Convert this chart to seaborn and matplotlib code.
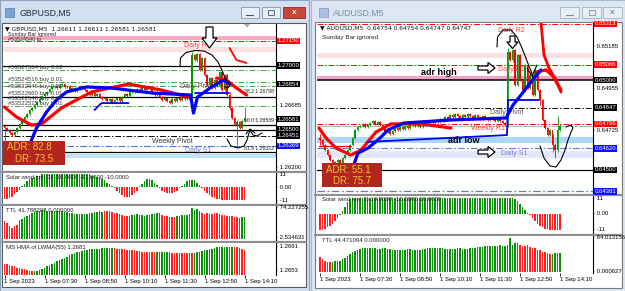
import numpy as np
import pandas as pd
import matplotlib
matplotlib.use("Agg")
import matplotlib.pyplot as plt
import matplotlib.transforms as mtrans
from matplotlib.patches import Rectangle, Polygon
import seaborn as sns

sns.set_theme(style="white")
plt.rcParams["font.family"] = ["Liberation Sans", "DejaVu Sans"]
plt.rcParams["axes.unicode_minus"] = False

# ------------------------------------------------------------------ data
time_ticks = [0, 16, 32, 48, 64, 80, 96]
time_labels = ["1 Sep 2023", "1 Sep 07:30", "1 Sep 08:50", "1 Sep 10:10",
               "1 Sep 11:30", "1 Sep 12:50", "1 Sep 14:10"]

# GBPUSD M5 closes (bar 0 = 06:10)
gbp_open0 = 1.26530
gbp_close = [1.26511, 1.26495, 1.26471, 1.26456, 1.26479, 1.26511, 1.26542, 1.26573,
             1.26597, 1.26620, 1.26652, 1.26668, 1.26691, 1.26714, 1.26738, 1.26761,
             1.26777, 1.26793, 1.26816, 1.26832, 1.26839, 1.26824, 1.26847, 1.26855,
             1.26832, 1.26839, 1.26808, 1.26824, 1.26800, 1.26816, 1.26839, 1.26824,
             1.26808, 1.26793, 1.26769, 1.26785, 1.26761, 1.26777, 1.26753, 1.26738,
             1.26746, 1.26722, 1.26738, 1.26714, 1.26730, 1.26746, 1.26722, 1.26753,
             1.26777, 1.26761, 1.26793, 1.26808, 1.26793, 1.26816, 1.26800, 1.26824,
             1.26808, 1.26832, 1.26816, 1.26785, 1.26769, 1.26793, 1.26753, 1.26730,
             1.26746, 1.26722, 1.26706, 1.26738, 1.26722, 1.26746, 1.26730, 1.26753,
             1.26738, 1.26761, 1.26730, 1.27082, 1.27043, 1.27090, 1.26965, 1.27059,
             1.26926, 1.26847, 1.26902, 1.26824, 1.26886, 1.26839, 1.26949, 1.26808,
             1.26926, 1.26769, 1.26668, 1.26589, 1.26534, 1.26558, 1.26511, 1.26565,
             1.26581]
gbp_wicks = {0: (1.26545, 1.26400), 75: (1.27106, 1.26722), 77: (1.27100, 1.27030),
             90: (1.26790, 1.26650), 93: (1.26570, 1.26378), 96: (1.26675, 1.26560)}

gbp_blue_x = [10, 12.8, 16.8, 20.8, 24.8, 32.8, 42.8, 58.8, 74.4, 75.6, 77.2, 82.8, 87.6, 90]
gbp_blue_y = [1.26378, 1.26511, 1.26636, 1.26730, 1.26793, 1.26832, 1.26824, 1.26785,
              1.26769, 1.26628, 1.26753, 1.26832, 1.26886, 1.26855]
gbp_step_x = [36, 38.8, 49.6]
gbp_step_y = [1.26652, 1.26706, 1.26706]
gbp_flat_x = [76, 89.6]
gbp_flat_y = [1.26785, 1.26785]
gbp_red_x = [0, 4.8, 10.8, 14.8, 22.8, 34.8, 49.6, 62.8, 73.6]
gbp_red_y = [1.26675, 1.26597, 1.26534, 1.26542, 1.26668, 1.26793, 1.26855, 1.26808, 1.26753]
gbp_red2_x = [84.8, 88.8, 92.8, 96.8]
gbp_red2_y = [1.26902, 1.26886, 1.26824, 1.26769]
gbp_red3_x = [90, 92.8, 96.8]
gbp_red3_y = [1.27137, 1.27043, 1.27020]

gbp_solar = ([-10, -10, -9, -8, -6, -4, -2] +
             [1, 3, 5, 7, 8, 9, 10, 10, 11, 11, 11, 11, 11, 11, 11, 11, 11, 11, 11, 11,
              11, 11, 11, 11, 11, 11, 11, 11, 10, 10, 9, 8, 7, 6, 4, 3, 1] +
             [-1, -3, -5, -7, -8, -8, -8, -7, -5, -3] +
             [1, 3, 5, 7, 7, 6, 4, 2] +
             [-1, -3, -4, -5, -5, -5, -4, -3, -1] +
             [1, 3, 5, 6, 6, 6, 4, 2] +
             [-1, -3, -5, -7, -8, -9, -10, -10, -11, -11, -11, -11, -11, -11, -11, -11, -11, -11])

gbp_ttl = ([42, 38, 32, 27, 30, 34] +
           [45, 48, 52, 55, 58, 62, 65, 67, 68, 70, 69, 68, 67, 66, 65, 66, 67, 66, 65, 64,
            63, 62, 61, 60, 60, 61, 60, 61, 62, 63, 64, 65, 66, 65] +
           [68, 67, 66, 64, 63, 62, 60, 58, 56, 54] +
           [55, 57, 58, 59, 58, 57, 56, 57, 58, 59, 60, 62, 63] +
           [58, 55, 54, 53, 52, 52] +
           [55, 56, 57, 57, 58, 60, 75, 70, 72, 66] +
           [62, 61, 62, 60, 61, 62, 63, 60, 58, 57, 56, 55, 54, 53, 52, 50] +
           [52, 53])
gbp_ttl_runs = [("r", 6), ("g", 34), ("r", 10), ("g", 13), ("r", 6), ("g", 10), ("r", 16), ("g", 2)]

gbp_hma = ([1.2663, 1.2662, 1.2661, 1.2660, 1.2659, 1.2657, 1.2656, 1.2655, 1.2654, 1.2653, 1.2652, 1.2651] +
           [1.2651, 1.2652, 1.2653, 1.2655, 1.2657, 1.2659, 1.2661, 1.2663, 1.2665, 1.2667,
            1.2669, 1.2671, 1.2673, 1.2675, 1.2677, 1.2679, 1.2680, 1.2682, 1.2683, 1.2684,
            1.2685, 1.2686, 1.2687, 1.2687, 1.2688, 1.2688, 1.2688, 1.2689, 1.2689, 1.2689,
            1.2689, 1.2689] +
           [1.2689, 1.2688, 1.2688, 1.2687, 1.2687, 1.2686, 1.2686, 1.2685, 1.2685, 1.2684,
            1.2684, 1.2683, 1.2683, 1.2683, 1.2682, 1.2682, 1.2682] +
           [1.2682, 1.2682, 1.2683, 1.2682, 1.2682, 1.2682] +
           [1.2681, 1.2681, 1.2681, 1.2680, 1.2680, 1.2680, 1.2680, 1.2680, 1.2680] +
           [1.2681, 1.2682, 1.2683, 1.2684, 1.2685, 1.2686, 1.2687, 1.2688, 1.2689, 1.2690,
            1.2690, 1.2691, 1.2691, 1.2691, 1.2691, 1.2691] +
           [1.2690, 1.2690, 1.2689, 1.2688, 1.2686])
gbp_hma_runs = [("r", 12), ("g", 32), ("r", 17), ("g", 6), ("r", 9), ("g", 16), ("r", 5)]

# AUDUSD M5 closes
aud_open0 = 0.64680
aud_close = [0.64667, 0.64639, 0.64611, 0.64583, 0.64556, 0.64528, 0.64544, 0.64556,
             0.64539, 0.64567, 0.64583, 0.64611, 0.64639, 0.64678, 0.64722, 0.64739,
             0.64744, 0.64756, 0.64739, 0.64750, 0.64761, 0.64772, 0.64756, 0.64767,
             0.64750, 0.64733, 0.64711, 0.64722, 0.64700, 0.64717, 0.64733, 0.64722,
             0.64739, 0.64728, 0.64744, 0.64733, 0.64750, 0.64761, 0.64744, 0.64756,
             0.64739, 0.64750, 0.64767, 0.64756, 0.64772, 0.64761, 0.64778, 0.64767,
             0.64783, 0.64772, 0.64794, 0.64783, 0.64806, 0.64794, 0.64811, 0.64800,
             0.64789, 0.64806, 0.64794, 0.64811, 0.64800, 0.64789, 0.64806, 0.64794,
             0.64783, 0.64800, 0.64789, 0.64778, 0.64794, 0.64783, 0.64772, 0.64789,
             0.64772, 0.64761, 0.64750, 0.65156, 0.65111, 0.65167, 0.64972, 0.65139,
             0.65000, 0.64944, 0.65083, 0.64956, 0.65028, 0.64917, 0.65056, 0.64944,
             0.64889, 0.64778, 0.64733, 0.64694, 0.64722, 0.64639, 0.64611, 0.64722,
             0.64747]
aud_wicks = {0: (0.64700, 0.64640), 5: (0.64560, 0.64500), 75: (0.65178, 0.64740),
             77: (0.65175, 0.65100), 88: (0.64950, 0.64861), 93: (0.64700, 0.64600),
             94: (0.64650, 0.64567), 95: (0.64800, 0.64600)}

aud_blue_x = [13.2, 15.2, 19.2, 23.2, 27.2, 33.6, 52.4, 74.4, 77.2, 80.4, 84.4, 88.4]
aud_blue_y = [0.64517, 0.64594, 0.64622, 0.64667, 0.64722, 0.64761, 0.64778, 0.64789,
              0.64861, 0.64917, 0.64989, 0.65056]
aud_step_x = [19.2, 51.2, 74.8, 75.2, 87.6]
aud_step_y = [0.64656, 0.64678, 0.64694, 0.64889, 0.64889]
aud_red_x = [-0.4, 2.4, 6.4, 12.4, 16.4, 22.4, 28.4, 40.4, 52.4]
aud_red_y = [0.64733, 0.64678, 0.64622, 0.64583, 0.64611, 0.64711, 0.64756, 0.64756, 0.64733]
aud_red2_x = [86.4, 90.4, 93.2, 96.4]
aud_red2_y = [0.65044, 0.65056, 0.65022, 0.64944]
aud_red3_x = [88.4, 89.6, 91.6, 94.4, 96.4]
aud_red3_y = [0.65317, 0.65139, 0.65067, 0.65000, 0.64933]
aud_red4_x = [-0.4, 12.4]
aud_red4_y = [0.64633, 0.64633]

aud_solar = ([-11, -11, -10, -9, -8, -7, -5, -3, -1] +
             [2, 5, 8, 10, 11] + [11] * 64 + [10, 9, 7, 5, 3, 1] +
             [-1, -3, -5, -7, -8, -9, -10, -10, -11, -11, -11, -11, -11])

aud_ttl = ([37, 33, 26, 24, 24] +
           [25, 26, 26, 28, 31, 35, 40, 44, 48, 51,
            55, 56, 58, 58, 59, 59, 58, 58, 57, 57,
            58, 58, 57, 56, 55, 55, 55, 54, 55, 55,
            56, 56, 55, 55, 55, 55, 56, 57, 58, 59,
            60, 60, 59, 58, 58, 57, 57, 56, 56, 57,
            58, 58, 57, 56, 57, 58, 59, 60, 61, 62,
            62, 63, 63, 64, 64, 63, 64, 65, 64, 63,
            65, 84, 66, 72, 72] +
           [66, 64, 63, 65, 62, 60, 58, 55, 53, 50, 48, 46, 44] +
           [44, 46, 47, 47])
aud_ttl_runs = [("r", 5), ("g", 75), ("r", 13), ("g", 4)]

# ------------------------------------------------------------------ figure
W, H = 625, 291
fig = plt.figure(figsize=(W / 100, H / 100), dpi=100)
fig.patch.set_facecolor("#d6e2f1")

GREEN, RED = "#009a00", "#ff0000"
HG, HR = "#0b8f0b", "#ff1f1f"
FS = 4.3
DD = (0, (6, 2, 1.5, 2))


def axes_px(x0, y0, x1, y1, z=1):
    return fig.add_axes([x0 / W, 1 - y1 / H, (x1 - x0) / W, (y1 - y0) / H], zorder=z)


def rect(ax, x0, y0, x1, y1, **kw):
    ax.add_patch(Rectangle((x0, y0), x1 - x0, y1 - y0, **kw))


bg = axes_px(0, 0, W, H, z=0)
bg.set_xlim(0, W); bg.set_ylim(H, 0); bg.axis("off")

# window frames
rect(bg, 0, 0, 309, 291, fc="#d3e0f0", ec="#8ea3bf", lw=0.8)
rect(bg, 311, 0, 625, 291, fc="#dde7f3", ec="#a9b9ce", lw=0.8)
rect(bg, 2, 23, 306, 287, fc="white", ec="#5a5a5a", lw=0.8)
rect(bg, 315, 22, 622, 288, fc="white", ec="#7a7a7a", lw=0.8)
# title bars
rect(bg, 5, 8, 14, 17, fc="#7aa3d6", ec="#4f79ad", lw=0.5)
bg.text(19, 13, "GBPUSD,M5", fontsize=6.3, color="#1d2b3d", va="center")
rect(bg, 319, 8, 328, 17, fc="#aac0de", ec="#8098b8", lw=0.5)
bg.text(333, 13, "AUDUSD,M5", fontsize=6.3, color="#7b8ca2", va="center")
for (a, b) in [(241, 259), (262, 280)]:
    rect(bg, a, 7, b, 18, fc="#e8eff8", ec="#8396ae", lw=0.6)
rect(bg, 283, 7, 305, 18, fc="#c9453b", ec="#8a2a24", lw=0.6)
bg.text(294, 12.5, "x", fontsize=6, color="white", ha="center", va="center", fontweight="bold")
bg.plot([246, 253], [14.5, 14.5], color="#45566b", lw=0.8)
rect(bg, 268, 10, 274, 15, fc="none", ec="#45566b", lw=0.6)
for (a, b) in [(560, 579), (582, 601), (603, 622)]:
    rect(bg, a, 7, b, 18, fc="#e9eef5", ec="#a2b1c4", lw=0.6)
bg.plot([566, 573], [14.5, 14.5], color="#7d8ca0", lw=0.8)
rect(bg, 589, 10, 595, 15, fc="none", ec="#7d8ca0", lw=0.6)
bg.text(612.5, 12.5, "x", fontsize=6, color="#7d8ca0", ha="center", va="center", fontweight="bold")
# panel separators
for y in [171.5, 204.5, 241.5]:
    bg.plot([2, 306], [y, y], color="#8f8f8f", lw=1.6)
for y in [194.5, 234.5]:
    bg.plot([315, 622], [y, y], color="#8f8f8f", lw=1.6)


def style_panel(ax, xlim, ylim):
    ax.set_xlim(*xlim); ax.set_ylim(*ylim)
    ax.set_xticks([]); ax.set_yticks([])
    for s in ["left", "top", "bottom"]:
        ax.spines[s].set_visible(False)
    ax.spines["right"].set_color("black")
    ax.spines["right"].set_linewidth(0.8)
    ax.set_facecolor("white")


def price_label(ax, y, text, fc=None, tc="black"):
    tr = mtrans.blended_transform_factory(ax.transAxes, ax.transData)
    if fc:
        ax.text(1.006, y, text, transform=tr, fontsize=FS, color=tc, va="center", ha="left",
                bbox=dict(boxstyle="square,pad=0.12", fc=fc, ec="none"), clip_on=False, zorder=30)
    else:
        ax.text(1.0, y, "- " + text, transform=tr, fontsize=FS, color="black", va="center",
                ha="left", clip_on=False, zorder=30)


def candles(ax, open0, close, wicks, ext, minh):
    c = np.array(close, float)
    o = np.concatenate([[open0], c[:-1]])
    hi = np.maximum(o, c) + ext
    lo = np.minimum(o, c) - ext
    for k, (h, l) in wicks.items():
        hi[k], lo[k] = h, l
    x = np.arange(len(c))
    col = np.where(c >= o, GREEN, RED)
    ax.vlines(x, lo, hi, colors=col, lw=0.6, zorder=5)
    h = c - o
    h = np.where(np.abs(h) < minh, minh, h)
    ax.bar(x, h, bottom=o, width=0.6, color=col, lw=0, zorder=5)


def line(ax, xs, ys, color, lw, z=6):
    df = pd.DataFrame({"bar": xs, "price": ys})
    sns.lineplot(data=df, x="bar", y="price", ax=ax, color=color, linewidth=lw,
                 sort=False, estimator=None, legend=False, zorder=z)
    ax.set_xlabel(""); ax.set_ylabel("")


def runs_to_colors(runs):
    out = []
    for c, n in runs:
        out += [HG if c == "g" else HR] * n
    return out


def hist(ax, vals, colors, base=0.0):
    x = np.arange(len(vals))
    v = np.array(vals, float)
    ax.bar(x, v - base, bottom=base, width=0.62, color=colors, lw=0, zorder=3)


LX = (-0.6, 108.6)
RX = (-1.2, 109.2)

# ------------------------------------------------------------------ GBP main
ax = axes_px(3, 24, 276, 170)
style_panel(ax, LX, (1.26182, 1.27325))
ax.axhspan(1.27200, 1.27231, color="#f5a8c8", lw=0, zorder=1)
ax.axhspan(1.27106, 1.27145, color="#fde0e1", lw=0, zorder=1)
ax.axhspan(1.26276, 1.26307, color="#bfe3f7", lw=0, zorder=1)
ax.axhline(1.27192, color="red", lw=0.7, ls=DD, zorder=2)
ax.axhline(1.27000, color="black", lw=0.9, zorder=2)
for yv in [1.26965, 1.26871, 1.26839, 1.26683]:
    ax.axhline(yv, color="#3aa83a", lw=0.7, ls=DD, zorder=2)
ax.axhline(1.26753, color="black", lw=0.9, zorder=2)
ax.axhline(1.26581, color="#a0a0a0", lw=0.6, ls=":", zorder=2)
ax.axhline(1.26538, color="black", lw=0.9, zorder=2)
ax.axhline(1.26499, color="black", lw=0.9, zorder=2)
ax.axhline(1.26452, color="black", lw=0.7, ls=DD, zorder=2)
ax.axhline(1.26370, color="#4f6ee8", lw=0.8, ls=DD, zorder=2)
ax.axhline(1.26323, color="black", lw=0.9, zorder=2)
ax.text(70.0, 1.26832, "Daily Pivot", color="#555555", fontsize=5, va="center", zorder=4)
candles(ax, gbp_open0, gbp_close, gbp_wicks, 0.00008, 0.00003)
line(ax, gbp_red_x, gbp_red_y, "#ff0000", 2.3)
line(ax, gbp_red2_x, gbp_red2_y, "#ff0000", 2.3)
line(ax, gbp_red3_x, gbp_red3_y, "#ff0000", 1.3)
line(ax, gbp_step_x, gbp_step_y, "#0000ff", 1.3)
line(ax, gbp_flat_x, gbp_flat_y, "#0000ff", 1.3)
line(ax, gbp_blue_x, gbp_blue_y, "#0000ff", 2.3)
ax.text(71.6, 1.27153, "Daily R1", color="#ff3b3b", fontsize=5, va="center", zorder=7)
ax.text(58.8, 1.26409, "Weekly Pivot", color="#333333", fontsize=5, va="center", zorder=7)
ax.text(72.0, 1.26331, "Daily S1", color="#6b7fe0", fontsize=5, va="center", zorder=7)
for px, txt in [(1.26793, "38.2 1.26798"), (1.26573, "50.0 1.26539"), (1.26354, "61.8 1.26322")]:
    ax.text(95.6, px, txt, fontsize=3.7, color="#222222", va="center", zorder=7, clip_on=True)
for py, txt in [(1.26988, "#53527534 buy 0.02"), (1.26894, "#53524516 buy 0.01"),
                (1.26832, "#53522646 buy 0.01"), (1.26777, "#53522660 buy 0.01"),
                (1.26738, "#53522540 buy 0.01"), (1.26706, "#53522515 buy 0.01")]:
    ax.text(1.3, py, txt, fontsize=FS, color="#3a3a3a", va="center", zorder=7)
for yv, t, fc in [(1.27192, "1.27150", "#ff0000"), (1.27000, "1.27000", "black"),
                  (1.26854, "1.26854", "black"), (1.26581, "1.26581", "black"),
                  (1.26499, "1.26500", "black"), (1.26452, "1.26451", "black"),
                  (1.26370, "1.26369", "#1010ff")]:
    price_label(ax, yv, t, fc, "white")
price_label(ax, 1.26685, "1.26685")
price_label(ax, 1.26200, "1.26200")

# GBP Solar wind
ax = axes_px(3, 173, 276, 203)
style_panel(ax, LX, (-13.5, 12.2))
hist(ax, gbp_solar, [HG if v > 0 else HR for v in gbp_solar])
price_label(ax, 11, "11"); price_label(ax, 0, "0.00"); price_label(ax, -11, "-11")

# GBP TTL
ax = axes_px(3, 206, 276, 240)
style_panel(ax, LX, (-2.3, 79))
hist(ax, gbp_ttl, runs_to_colors(gbp_ttl_runs))
price_label(ax, 74.227, "74.227255"); price_label(ax, 2.53, "2.534631")

# GBP HMA
ax = axes_px(3, 243, 276, 275)
style_panel(ax, LX, (1.26449, 1.26970))
hist(ax, gbp_hma, runs_to_colors(gbp_hma_runs), base=1.2640)
price_label(ax, 1.2691, "1.2691"); price_label(ax, 1.2653, "1.2653")
ax.set_xticks(time_ticks)
ax.set_xticklabels(time_labels, ha="left", fontsize=FS)
ax.tick_params(axis="x", bottom=True, length=2, width=0.6, pad=1, colors="black")

# ------------------------------------------------------------------ AUD main
ax = axes_px(317, 23, 593, 193)
style_panel(ax, RX, (0.64372, 0.65317))
ax.axhspan(0.65122, 0.65150, color="#fde0e1", lw=0, zorder=1)
ax.axhspan(0.65000, 0.65022, color="#f2a2c6", lw=0, zorder=1)
ax.axhspan(0.64650, 0.64683, color="#a9d8f3", lw=0, zorder=1)
ax.axhspan(0.64567, 0.64606, color="#e6e6fa", lw=0, zorder=1)
ax.axhline(0.65313, color="red", lw=0.7, ls=DD, zorder=2)
ax.axhline(0.65086, color="red", lw=0.7, ls=DD, zorder=2)
ax.axhline(0.65000, color="black", lw=1.1, zorder=2)
ax.axhline(0.64847, color="black", lw=0.7, ls=DD, zorder=2)
ax.axhline(0.64756, color="red", lw=0.7, ls=DD, zorder=2)
ax.axhline(0.64747, color="#b0b0b0", lw=0.6, zorder=2)
ax.axhline(0.64620, color="#5f78e6", lw=0.8, ls=DD, zorder=2)
ax.axhline(0.64500, color="black", lw=0.9, zorder=2)
ax.axhline(0.64381, color="#5f78e6", lw=0.9, ls=DD, zorder=2)
ax.text(68.0, 0.64817, "Daily Pivot", color="#555555", fontsize=5, va="center", zorder=4)
ax.text(71.2, 0.65056, "Daily R1", color="#ff5050", fontsize=5, va="center", zorder=4)
candles(ax, aud_open0, aud_close, aud_wicks, 0.00006, 0.00002)
line(ax, aud_red_x, aud_red_y, "#ff0000", 2.3)
line(ax, aud_red4_x, aud_red4_y, "#ff0000", 0.9)
line(ax, aud_red3_x, aud_red3_y, "#ff0000", 2.0)
line(ax, aud_red2_x, aud_red2_y, "#ff0000", 2.3)
line(ax, aud_step_x, aud_step_y, "#0000ff", 1.3)
line(ax, aud_blue_x, aud_blue_y, "#0000ff", 2.3)
ax.text(71.2, 0.65278, "Daily R2", color="#ff3b3b", fontsize=5, va="center", zorder=7)
ax.text(40.4, 0.65044, "adr high", color="black", fontsize=6.5, fontweight="bold", va="center", zorder=7)
ax.text(60.4, 0.64733, "Weekly R1", color="#ff3b3b", fontsize=5, va="center", zorder=7)
ax.text(51.2, 0.64666, "adr low", color="black", fontsize=6.5, fontweight="bold", va="center", zorder=7)
ax.text(72.4, 0.64594, "Daily S1", color="#6b7fe0", fontsize=5, va="center", zorder=7)
for yv, t, fc in [(0.65313, "0.65313", "#ff0000"), (0.65086, "0.65086", "#ff0000"),
                  (0.65000, "0.65000", "black"), (0.64847, "0.64847", "black"),
                  (0.64756, "0.64796", "#ff0000"), (0.64620, "0.64620", "#1010ff"),
                  (0.64500, "0.64500", "black"), (0.64381, "0.64381", "#1010ff")]:
    price_label(ax, yv, t, fc, "white")
price_label(ax, 0.65185, "0.65185")
price_label(ax, 0.64955, "0.64955")
price_label(ax, 0.64717, "0.64725")

# AUD Solar wind
ax = axes_px(317, 196, 593, 233)
style_panel(ax, RX, (-13.1, 12.4))
hist(ax, aud_solar, [HG if v > 0 else HR for v in aud_solar])
price_label(ax, 11, "11"); price_label(ax, 0, "0.00"); price_label(ax, -11, "-11")

# AUD TTL
ax = axes_px(317, 236, 593, 273)
style_panel(ax, RX, (-2.5, 88.2))
hist(ax, aud_ttl, runs_to_colors(aud_ttl_runs))
price_label(ax, 84.0, "84.013156"); price_label(ax, 0.6, "0.000627")
ax.set_xticks(time_ticks)
ax.set_xticklabels(time_labels, ha="left", fontsize=FS)
ax.tick_params(axis="x", bottom=True, length=2, width=0.6, pad=1, colors="black")

# ------------------------------------------------------------------ overlay
ov = axes_px(0, 0, W, H, z=50)
ov.set_xlim(0, W); ov.set_ylim(H, 0); ov.axis("off")
ov.patch.set_alpha(0)

ov.text(5, 28.5, "\u25bc GBPUSD,M5  1.26611 1.26611 1.26581 1.26581", fontsize=FS, va="center",
        family=["DejaVu Sans"], color="#111111")
ov.text(8, 34.2, "Sunday Bar ignored", fontsize=3.9, va="center", color="#222222")
ov.text(8, 39.6, "#53524540 tp", fontsize=3.9, va="center", color="#333333")
ov.text(320, 27.5, "\u25bc AUDUSD,M5  0.64754 0.64754 0.64747 0.64747", fontsize=FS, va="center",
        family=["DejaVu Sans"], color="#111111")
ov.text(322, 37, "Sunday Bar ignored", fontsize=FS + 0.3, va="center", color="#222222")
ov.add_patch(Polygon([(244, 24), (250, 24), (247, 27.5)], closed=True, fc="#a8a8a8", ec="none"))

# sub-window titles
for x, y, t in [(6, 177, "Solar wind joy(-3) -10.0000 -11.0000 -10.0000"),
                (6, 211, "TTL 41.788208 0.000000"),
                (6, 247, "MS HMA of LWMA(55) 1.2681"),
                (322, 199.5, "Solar wind joy(-3) 10.0000 -10.0000 10.0000"),
                (322, 240.5, "TTL 44.471094 0.000000")]:
    ov.text(x, y, t, fontsize=FS, va="center", color="#222222")

# ADR boxes
rect(ov, 3, 141, 65, 165, fc="#b3261f", ec="none")
ov.text(7, 147.5, "ADR: 82.8", fontsize=7, color="#f2c230", va="center")
ov.text(15, 159, "DR: 73.5", fontsize=7, color="#f2c230", va="center")
rect(ov, 322, 163, 382, 187, fc="#b3261f", ec="none")
ov.text(326, 170, "ADR: 55.1", fontsize=7, color="#f2c230", va="center")
ov.text(333, 181.5, "DR: 75.7", fontsize=7, color="#f2c230", va="center")

# hand-drawn annotations
arrow_kw = dict(closed=True, fc="white", ec="black", lw=0.9)
ov.add_patch(Polygon([(206, 27), (213, 27), (213, 38), (217, 38), (209.5, 48), (202, 38), (206, 38)], **arrow_kw))
ov.add_patch(Polygon([(510, 36), (515, 36), (515, 42), (518, 42), (512.5, 48.5), (507, 42), (510, 42)], **arrow_kw))
ov.add_patch(Polygon([(478, 66), (488, 66), (488, 62.5), (495, 68), (488, 73.5), (488, 70), (478, 70)], **arrow_kw))
ov.add_patch(Polygon([(478, 150), (488, 150), (488, 146.5), (495, 152), (488, 157.5), (488, 154), (478, 154)], **arrow_kw))
paths = [
    [(180, 66), (180.5, 58), (186, 52.5), (195, 50.5), (204, 51), (212, 55), (218, 62),
     (222, 70), (225, 78), (228, 82), (230, 85), (228, 88), (225, 87)],
    [(227, 139), (231, 146), (238, 148), (244, 146), (247, 140), (250, 130), (253, 135),
     (257, 136), (262, 133)],
    [(246, 134), (250, 129), (255, 133)],
    [(497, 47), (497.5, 37), (503, 30), (511, 30), (517, 37), (522, 48), (527, 61),
     (531, 71), (533, 77)],
    [(527, 68), (532, 76), (537, 65)],
    [(540, 146), (544, 158), (550, 166), (556, 167), (561, 160), (565, 150), (568, 140),
     (571, 132), (573, 128), (571, 125), (566, 127)],
]
for p in paths:
    xs, ys = zip(*p)
    ov.plot(xs, ys, color="black", lw=0.8, solid_capstyle="round")

fig.savefig("out.png", dpi=100, facecolor=fig.get_facecolor())
